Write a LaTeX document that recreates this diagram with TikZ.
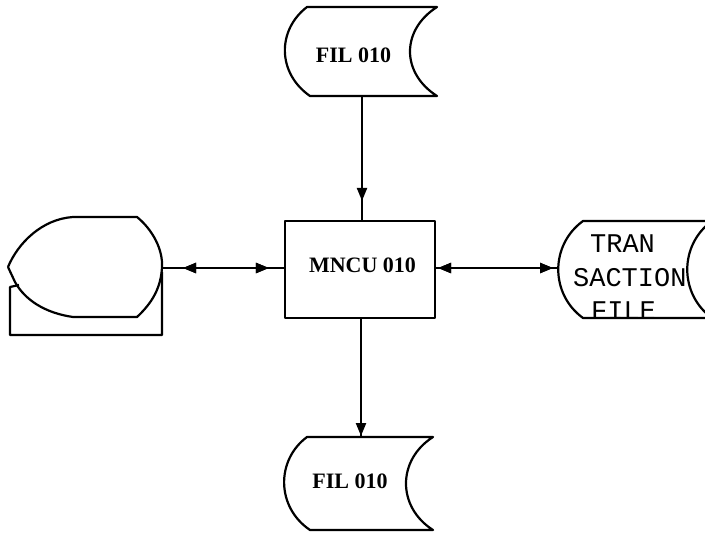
\documentclass[tikz,border=0pt]{standalone}
\usepackage{fontspec}
\setmainfont{Liberation Serif}
\newfontfamily\monof{Liberation Mono}
\usetikzlibrary{arrows.meta,decorations.markings}
\begin{document}
\begin{tikzpicture}[x=1pt,y=-1pt,line width=2.2pt,line join=round,
  tip/.tip={Triangle[length=13pt,width=10pt]},
  headat/.style={postaction={decorate},decoration={markings,
     mark=at position #1 with {\arrow{tip}}}},
  headback/.style={postaction={decorate},decoration={markings,
     mark=at position #1 with {\arrowreversed{tip}}}},
  stxt/.style={font=\bfseries\fontsize{22}{25}\selectfont,inner sep=0pt,anchor=base},
  mtxt/.style={font=\monof\fontsize{27}{30}\selectfont,inner sep=0pt,anchor=base west},
  procbox/.style={draw,minimum width=150pt,minimum height=97pt,inner sep=0pt}]
\useasboundingbox (0,0) rectangle (705,539);
\clip (0,0) rectangle (705,539);

% top file
\draw (307,7) -- (437,7) .. controls (401,30) and (401,73) .. (437,96)
  -- (310,96) .. controls (277,73) and (277,30) .. (307,7) -- cycle;
\node[stxt] (ftop) at (353.5,62) {FIL 010};
\coordinate (ftopb) at (362,96);

% process box
\node[procbox] (m) at (360,269.5) {};
\node[stxt] (mt) at (362.5,272) {MNCU 010};

% bottom file
\draw (307,437) -- (433,437) .. controls (397,460) and (397,507) .. (433,530)
  -- (310,530) .. controls (276,507) and (276,460) .. (307,437) -- cycle;
\node[stxt] (fbot) at (350,488) {FIL 010};
\coordinate (fbott) at (361,437);

% display + document shape (left)
\draw (8,267) .. controls (18,243) and (42,219) .. (73,217) -- (137,217)
  .. controls (153,230) and (163,250) .. (162,267)
  .. controls (161,288) and (152,303) .. (137,317) -- (73,317)
  .. controls (45,313) and (25,300) .. (15,282) -- (8,267);
\draw (19,285) -- (10,287) -- (10,335) -- (162,335) -- (162,272);
\coordinate (disp) at (162,268);

% transaction file (right)
\node[mtxt] (t1) at (589,252) {TRAN};
\node[mtxt] (t2) at (572,286) {SACTION};
\node[mtxt] (t3) at (590,319) {FILE};
\draw (583,221) -- (712,221) .. controls (679,245) and (679,294) .. (712,318)
  -- (583,318) .. controls (550,294) and (550,245) .. (583,221) -- cycle;
\coordinate (tf) at (558,268);

% connectors
\draw[headat=-19pt] (ftopb) -- (ftopb |- m.north);
\draw[headat=-1pt] (fbott |- m.south) -- (fbott);
\draw[headback=21pt,headat=-15pt] (disp) -- (disp -| m.west);
\draw[headback=2pt,headat=-5pt] (tf -| m.east) -- (tf);
\end{tikzpicture}
\end{document}
